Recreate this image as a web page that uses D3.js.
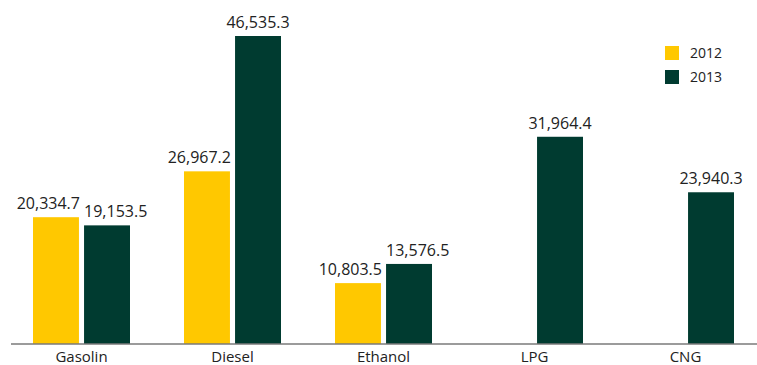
<!DOCTYPE html>
<html>
<head>
<meta charset="utf-8">
<script src="https://cdn.jsdelivr.net/npm/d3@7"></script>
<style>
  html, body { margin: 0; padding: 0; background: #fff; }
  svg text { font-family: "Open Sans", sans-serif; fill: #222; }
</style>
</head>
<body>
<svg id="chart" width="757" height="365"></svg>
<script>
// Fuel consumption by type, 2012 vs 2013
const categories = ["Gasolin", "Diesel", "Ethanol", "LPG", "CNG"];
const seriesNames = ["2012", "2013"];
const values2012 = [20334.7, 26967.2, 10803.5, null, null];
const values2013 = [19153.5, 46535.3, 13576.5, 31964.4, 23940.3];
const colors = ["#FFC800", "#003B30"];

const svg = d3.select("#chart");
const baseY = 344;

const x = d3.scaleBand().domain(categories).range([6, 761]).padding(0);
const xInner = d3.scaleBand().domain(seriesNames).range([27, 124]).paddingInner(0.1);
const y = d3.scaleLinear().domain([2000, 46535.3]).range([baseY, 36]);

const fmt = d3.format(",.1f");
const series = [values2012, values2013];

const groups = svg.selectAll("g.cat")
  .data(categories)
  .join("g")
  .attr("class", "cat")
  .attr("transform", d => `translate(${x(d)},0)`);

groups.each(function(c, ci) {
  const g = d3.select(this);
  const v1 = values2012[ci], v2 = values2013[ci];
  seriesNames.forEach((s, si) => {
    const v = series[si][ci];
    if (v == null) return;
    g.append("rect")
      .attr("x", xInner(s))
      .attr("width", xInner.bandwidth())
      .attr("y", y(v))
      .attr("height", baseY - y(v))
      .attr("fill", colors[si]);

    // labels are nudged apart when the two bars of a group sit at similar heights
    let anchor = "middle", lx = xInner(s) + xInner.bandwidth() / 2;
    if (si === 0) {
      anchor = "end"; lx = xInner(s) + xInner.bandwidth() + 1;
    } else if (v1 != null && Math.abs(y(v1) - y(v2)) < 40) {
      anchor = "start"; lx = xInner(s);
    }
    g.append("text")
      .attr("x", lx)
      .attr("y", y(v) - 8)
      .attr("text-anchor", anchor)
      .attr("font-size", 16)
      .text(fmt(v));
  });
});

// baseline axis
const axis = d3.axisBottom(x).tickSize(0).tickPadding(7);
const axisG = svg.append("g").attr("transform", `translate(0,${baseY})`).call(axis);
axisG.select(".domain").attr("stroke", "#7a7a7a").attr("stroke-width", 1.6)
  .attr("d", "M11,0H757");
axisG.selectAll(".tick text")
  .attr("font-size", 15)
  .attr("font-family", "'Open Sans', sans-serif")
  .attr("fill", "#222");

// legend
const legend = svg.append("g").attr("transform", "translate(665,46)");
seriesNames.forEach((s, i) => {
  legend.append("rect").attr("x", 0).attr("y", i * 24).attr("width", 14).attr("height", 14).attr("fill", colors[i]);
  legend.append("text").attr("x", 25).attr("y", i * 24 + 12).attr("font-size", 14).text(s);
});
</script>
</body>
</html>
